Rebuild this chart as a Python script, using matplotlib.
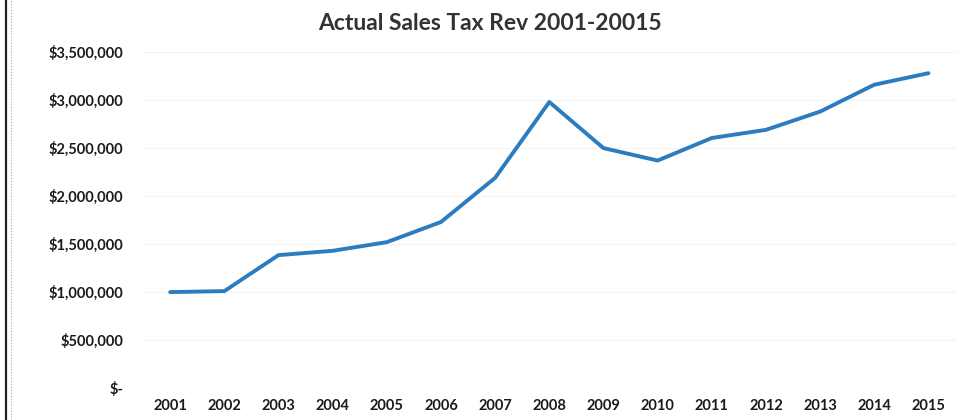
import matplotlib
matplotlib.use('Agg')

import matplotlib.pyplot as plt
import matplotlib.ticker as mticker
from matplotlib.lines import Line2D

# data
years = [2001, 2002, 2003, 2004, 2005, 2006, 2007, 2008,
         2009, 2010, 2011, 2012, 2013, 2014, 2015]
revenue = [1000000, 1010000, 1385000, 1430000, 1520000, 1730000, 2190000, 2980000,
           2500000, 2370000, 2605000, 2690000, 2880000, 3160000, 3280000]
y_ticks = [0, 500000, 1000000, 1500000, 2000000, 2500000, 3000000, 3500000]

plt.rcParams['font.family'] = ['Lato', 'DejaVu Sans']

fig = plt.figure(figsize=(9.8, 4.2), dpi=100)
ax = fig.add_axes([0.146, 0.076, 0.829, 0.8])

ax.plot(years, revenue, color='#2c7cc0', linewidth=2.8, solid_capstyle='round')

ax.set_xlim(2000.5, 2015.5)
ax.set_ylim(0, 3500000)
ax.set_xticks(years)
ax.set_yticks(y_ticks)

def money(v, pos):
    if v == 0:
        return '$-'
    return '${:,.0f}'.format(v)

ax.yaxis.set_major_formatter(mticker.FuncFormatter(money))
ax.tick_params(axis='both', length=0, labelsize=10.5, colors='#1a1a1a')
ax.tick_params(axis='y', pad=14)
ax.tick_params(axis='x', pad=8)
for lbl in ax.get_xticklabels() + ax.get_yticklabels():
    lbl.set_fontweight('bold')

ax.grid(axis='y', color='#f4f4f4', linewidth=0.8)
ax.set_axisbelow(True)
for s in ax.spines.values():
    s.set_visible(False)

fig.text(0.5, 0.945, 'Actual Sales Tax Rev 2001-20015', ha='center', va='center',
         fontsize=16.5, fontweight='bold', color='#333333')

# scanned page border on the left
fig.add_artist(Line2D([0.006, 0.006], [0, 1], transform=fig.transFigure,
                      color='#222222', linewidth=1.6))
fig.add_artist(Line2D([0.011, 0.011], [0, 1], transform=fig.transFigure,
                      color='#aaaaaa', linewidth=0.8, linestyle=':'))

plt.savefig('out.png')
plt.close()
